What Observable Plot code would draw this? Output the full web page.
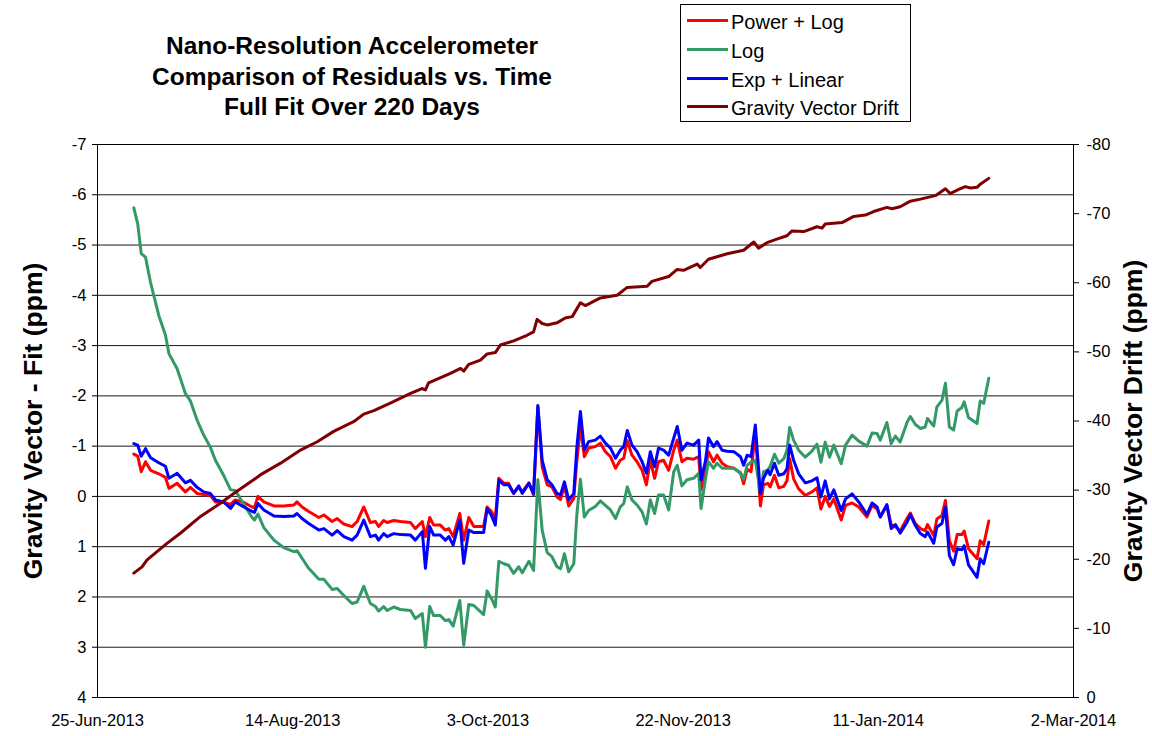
<!DOCTYPE html>
<html>
<head>
<meta charset="utf-8">
<script src="https://cdn.jsdelivr.net/npm/d3@7"></script>
<script src="https://cdn.jsdelivr.net/npm/@observablehq/plot@0.6"></script>
<style>
  html, body { margin: 0; padding: 0; background: #fff; }
  #wrap { position: relative; width: 1152px; height: 736px; font-family: "Liberation Sans", Arial, sans-serif; color: #000; }
  #header { position: relative; width: 1152px; height: 134px; }
  .tline { position: absolute; left: 102px; width: 500px; text-align: center; font-weight: bold; font-size: 24.5px; line-height: 24.5px; white-space: nowrap; }
  #legend { position: absolute; left: 680px; top: 4px; width: 231px; height: 118px; border: 1px solid #000; box-sizing: border-box; }
  .sw { position: absolute; height: 3px; width: 41px; }
  .lt { position: absolute; font-size: 20px; line-height: 20px; white-space: nowrap; }
  svg { display: block; }
</style>
</head>
<body>
<div id="wrap">
  <div id="header"></div>
  <div id="chart"></div>
</div>
<script>
// ---------- data ----------
// day offsets from 25-Jun-2013
const residualDays = [
  9.3,10.3,11.2,12.3,13.6,15.7,17.4,18.3,20.4,22.5,
  23.8,25.5,27.2,28.9,30.2,32.3,34.1,35.3,37.5,39.6,
  40.2,41.1,42.6,45.2,47.7,50.3,51.1,52.4,54.1,56.7,
  58.0,60.1,61.4,63.1,65.2,66.5,68.2,69.9,71.2,72.0,
  73.3,74.2,75.9,77.6,80.2,81.4,83.2,84.0,85.1,86.1,
  87.8,89.1,90.0,91.1,92.8,93.8,95.1,96.4,98.9,99.8,
  100.9,101.9,102.8,104.1,105.3,106.6,107.9,108.8,110.5,111.7,
  112.8,113.9,115.2,116.4,117.7,118.6,119.6,120.7,122.0,122.8,
  123.7,124.7,125.8,127.5,128.8,130.1,131.4,132.7,133.9,134.8,
  135.7,136.9,138.2,139.5,140.6,141.6,142.7,143.7,145.0,146.3,
  147.6,148.5,149.7,151.0,152.7,154.0,154.6,155.7,156.5,157.8,
  158.7,160.0,161.3,163.0,164.7,165.5,166.4,167.4,168.5,169.8,
  170.6,171.7,172.3,173.4,174.5,175.8,176.6,177.3,178.3,179.6,
  181.3,183.0,184.3,185.3,186.4,187.5,188.6,190.5,191.6,193.3,
  195.0,197.1,198.4,199.7,200.5,202.2,203.3,204.4,205.6,207.4,
  208.2,209.5,210.8,212.0,212.6,214.2,215.0,216.3,217.2,218.2,
  219.3,220.2,221.4,222.0,223.1,225.3,226.1,227.0,228.3
];
const powerLog = [
  -0.84,-0.80,-0.49,-0.69,-0.52,-0.45,-0.38,-0.16,-0.26,-0.09,
  -0.18,-0.06,-0.04,-0.02,0.11,0.12,0.16,0.07,0.12,0.21,
  0.22,0.00,0.11,0.19,0.19,0.17,0.11,0.21,0.30,0.42,
  0.37,0.50,0.44,0.55,0.60,0.50,0.21,0.52,0.50,0.60,
  0.48,0.52,0.48,0.50,0.52,0.64,0.50,0.80,0.42,0.57,
  0.57,0.67,0.64,0.80,0.34,0.87,0.42,0.60,0.60,0.21,
  0.30,0.44,-0.36,-0.26,-0.26,-0.06,-0.19,-0.09,-0.27,-0.03,
  -1.78,-0.59,-0.23,-0.19,0.01,0.06,-0.21,0.19,0.04,-0.72,
  -1.39,-0.79,-0.96,-0.99,-1.06,-0.89,-0.79,-0.56,-0.72,-0.76,
  -1.11,-0.82,-0.69,-0.52,-0.23,-0.72,-0.36,-0.69,-0.72,-0.52,
  -0.92,-1.12,-0.69,-0.76,-0.74,-0.79,-0.13,-0.56,-0.89,-0.69,
  -0.82,-0.66,-0.59,-0.56,-0.47,-0.25,-0.54,-0.49,-1.26,0.19,
  -0.23,-0.26,-0.19,-0.42,-0.17,-0.20,-0.31,-0.75,-0.35,-0.15,
  -0.02,-0.09,-0.17,0.25,0.00,0.20,0.05,0.47,0.18,0.13,
  0.21,0.41,0.18,0.25,0.41,0.18,0.56,0.60,0.69,0.43,
  0.33,0.54,0.64,0.68,0.56,0.78,0.45,0.38,0.08,0.88,
  1.09,0.76,0.76,0.69,1.04,1.24,0.88,0.96,0.49
];
const logFit = [
  -5.74,-5.42,-4.83,-4.76,-4.25,-3.60,-3.21,-2.84,-2.54,-2.05,
  -1.90,-1.52,-1.22,-0.98,-0.72,-0.42,-0.13,-0.12,0.16,0.42,
  0.47,0.35,0.62,0.87,1.02,1.10,1.08,1.23,1.43,1.65,
  1.65,1.85,1.83,1.97,2.13,2.10,1.79,2.13,2.19,2.28,
  2.19,2.27,2.20,2.25,2.27,2.43,2.33,3.00,2.19,2.37,
  2.37,2.47,2.45,2.58,2.07,2.96,2.15,2.17,2.35,1.88,
  2.03,2.20,1.29,1.34,1.37,1.53,1.40,1.52,1.29,1.47,
  -0.33,0.67,1.12,1.20,1.40,1.44,1.14,1.50,1.34,0.34,
  -0.34,0.41,0.28,0.20,0.09,0.18,0.27,0.44,0.21,0.14,
  -0.19,0.07,0.17,0.31,0.55,0.07,0.34,-0.03,-0.03,0.27,
  -0.49,-0.62,-0.21,-0.33,-0.36,-0.46,0.24,-0.33,-0.69,-0.56,
  -0.66,-0.56,-0.56,-0.56,-0.46,-0.34,-0.62,-0.68,-0.72,-0.06,
  -0.49,-0.52,-0.60,-0.84,-0.66,-0.75,-0.92,-1.37,-1.12,-0.92,
  -0.78,-0.90,-1.04,-0.68,-1.08,-0.78,-1.02,-0.65,-1.02,-1.22,
  -1.10,-1.00,-1.26,-1.25,-1.12,-1.47,-1.05,-1.20,-1.08,-1.48,
  -1.59,-1.43,-1.35,-1.38,-1.55,-1.40,-1.78,-1.91,-2.25,-1.38,
  -1.32,-1.70,-1.77,-1.88,-1.57,-1.45,-1.90,-1.85,-2.35
];
const expLinear = [
  -1.05,-1.02,-0.80,-0.95,-0.77,-0.67,-0.60,-0.36,-0.46,-0.27,
  -0.32,-0.18,-0.09,-0.06,0.07,0.11,0.24,0.11,0.21,0.30,
  0.32,0.14,0.27,0.39,0.40,0.39,0.34,0.44,0.54,0.67,
  0.64,0.77,0.68,0.80,0.87,0.77,0.47,0.80,0.77,0.87,
  0.74,0.80,0.74,0.76,0.77,0.87,0.70,1.43,0.60,0.77,
  0.77,0.87,0.80,0.97,0.47,1.33,0.67,0.72,0.72,0.24,
  0.38,0.57,-0.32,-0.23,-0.23,-0.06,-0.21,-0.06,-0.26,-0.06,
  -1.81,-0.72,-0.33,-0.23,-0.06,-0.03,-0.29,0.07,-0.06,-0.99,
  -1.69,-0.92,-1.09,-1.12,-1.20,-1.06,-0.96,-0.76,-0.92,-0.99,
  -1.31,-1.02,-0.89,-0.69,-0.46,-0.89,-0.59,-0.96,-0.92,-0.82,
  -1.16,-1.39,-0.92,-1.06,-1.02,-1.12,-0.33,-0.69,-1.16,-0.99,
  -1.09,-0.92,-0.90,-0.89,-0.79,-0.62,-0.82,-0.79,-1.42,-0.06,
  -0.36,-0.52,-0.43,-0.66,-0.42,-0.45,-0.55,-1.02,-0.72,-0.45,
  -0.27,-0.31,-0.37,0.01,-0.31,0.05,-0.13,0.28,0.05,-0.05,
  0.11,0.36,0.13,0.21,0.41,0.16,0.64,0.56,0.73,0.51,
  0.36,0.58,0.74,0.80,0.71,0.93,0.61,0.54,0.21,1.18,
  1.36,1.04,1.06,0.98,1.36,1.61,1.24,1.34,0.91
];
const driftDays = [
  9.3,11.4,12.7,17.8,21.3,26.4,31.5,34.9,40.0,41.7,
  46.9,52.0,56.3,60.5,65.6,68.2,70.8,75.0,80.2,83.1,
  84.0,84.8,90.4,93.0,93.8,95.1,98.1,99.8,101.9,103.2,
  106.6,110.0,111.7,112.6,113.9,115.2,117.7,119.8,121.6,123.7,
  125.0,128.8,133.1,135.6,140.8,142.0,146.3,148.4,150.1,153.6,
  154.4,156.5,161.3,165.5,168.1,169.3,171.5,174.0,176.6,177.9,
  180.9,184.3,185.6,186.4,190.7,193.7,196.7,198.8,202.2,203.5,
  205.6,208.2,210.8,214.6,217.2,218.4,220.6,222.3,223.6,225.3,
  226.2,228.3
];
const gravityDrift = [
  -18.0,-18.9,-19.9,-22.3,-23.8,-26.2,-28.1,-29.5,-31.5,-32.2,
  -33.9,-35.8,-37.0,-38.5,-39.9,-41.0,-41.5,-42.6,-44.0,-44.7,
  -44.5,-45.5,-46.9,-47.6,-47.2,-48.2,-48.8,-49.7,-49.9,-51.0,
  -51.6,-52.4,-52.9,-54.7,-54.1,-53.9,-54.2,-54.9,-55.1,-57.1,
  -56.7,-57.8,-58.2,-59.3,-59.5,-60.2,-60.9,-61.9,-61.8,-62.7,
  -62.2,-63.4,-64.2,-64.7,-65.9,-65.0,-65.8,-66.3,-66.8,-67.5,
  -67.4,-68.1,-67.9,-68.5,-68.7,-69.6,-69.8,-70.3,-70.9,-70.7,
  -71.0,-71.8,-72.1,-72.6,-73.6,-72.9,-73.5,-73.9,-73.7,-73.8,
  -74.3,-75.1
];
const xTickDays = [0, 50, 100, 150, 200, 250];
const leftTicks = [-7,-6,-5,-4,-3,-2,-1,0,1,2,3,4];
const rightTicks = [-80,-70,-60,-50,-40,-30,-20,-10,0];
const seriesNames = ["Power + Log", "Log", "Exp + Linear", "Gravity Vector Drift"];
const seriesColors = ["#ff0000", "#339966", "#0000ff", "#800000"];
const titleLines = ["Nano-Resolution Accelerometer", "Comparison of Residuals vs. Time", "Full Fit Over 220 Days"];
const leftLabel = "Gravity Vector - Fit (ppm)";
const rightLabel = "Gravity Vector Drift (ppm)";

// ---------- helpers ----------
const t0 = Date.UTC(2013, 5, 25);
const toDate = d => new Date(t0 + d * 864e5);
// secondary axis (-80..0) mapped onto primary axis (-7..4)
const toPrimary = w => 4 + w * 11 / 80;
const toSecondary = v => Math.round((v - 4) * 80 / 11);

const resid = residualDays.map((d, i) => ({date: toDate(d), pl: powerLog[i], log: logFit[i], exp: expLinear[i]}));
const drift = driftDays.map((d, i) => ({date: toDate(d), v: toPrimary(gravityDrift[i])}));

// ---------- header: title + legend ----------
const header = document.getElementById("header");
const titleTops = [34, 65, 95];
titleLines.forEach((t, i) => {
  const el = document.createElement("div");
  el.className = "tline";
  el.style.top = titleTops[i] + "px";
  el.textContent = t;
  header.appendChild(el);
});
const legend = document.createElement("div");
legend.id = "legend";
header.appendChild(legend);
seriesNames.forEach((name, i) => {
  const cy = 15.7 + 28.7 * i; // relative to legend box
  const sw = document.createElement("div");
  sw.className = "sw";
  sw.style.left = "6px";
  sw.style.top = (cy - 1.5) + "px";
  sw.style.background = seriesColors[i];
  legend.appendChild(sw);
  const lt = document.createElement("div");
  lt.className = "lt";
  lt.style.left = "50px";
  lt.style.top = (cy - 8.5) + "px";
  lt.textContent = name;
  legend.appendChild(lt);
});

// ---------- chart ----------
const fmt = d3.utcFormat("%-d-%b-%Y");
const chart = Plot.plot({
  width: 1152,
  height: 602,
  marginLeft: 97,
  marginRight: 79,
  marginTop: 10,
  marginBottom: 39,
  style: {fontFamily: "'Liberation Sans', Arial, sans-serif", fontSize: "16.5px", color: "#000", background: "#fff"},
  x: {type: "utc", domain: [toDate(0), toDate(250)]},
  y: {domain: [4, -7]},
  marks: [
    Plot.gridY(leftTicks, {stroke: "#000", strokeOpacity: 0.9, strokeWidth: 1}),
    Plot.frame({stroke: "#000", strokeWidth: 1}),
    Plot.axisX(xTickDays.map(toDate), {tickSize: 0, tickPadding: 17, tickFormat: fmt, label: null}),
    Plot.axisY(leftTicks, {anchor: "left", tickSize: 5, tickPadding: 6, tickFormat: d => String(d), label: null}),
    Plot.axisY(rightTicks.map(toPrimary), {anchor: "right", tickSize: 5, tickPadding: 8, tickFormat: v => String(toSecondary(v)), label: null}),
    Plot.line(resid, {x: "date", y: "pl", stroke: seriesColors[0], strokeWidth: 3}),
    Plot.line(resid, {x: "date", y: "log", stroke: seriesColors[1], strokeWidth: 3}),
    Plot.line(resid, {x: "date", y: "exp", stroke: seriesColors[2], strokeWidth: 3}),
    Plot.line(drift, {x: "date", y: "v", stroke: seriesColors[3], strokeWidth: 3}),
    Plot.text([leftLabel], {text: d => d, frameAnchor: "left", textAnchor: "middle", dx: -64, rotate: -90, fontSize: 26.5, fontWeight: "bold"}),
    Plot.text([rightLabel], {text: d => d, frameAnchor: "right", textAnchor: "middle", dx: 60, rotate: -90, fontSize: 26.5, fontWeight: "bold"})
  ]
});
document.getElementById("chart").appendChild(chart);
</script>
</body>
</html>
